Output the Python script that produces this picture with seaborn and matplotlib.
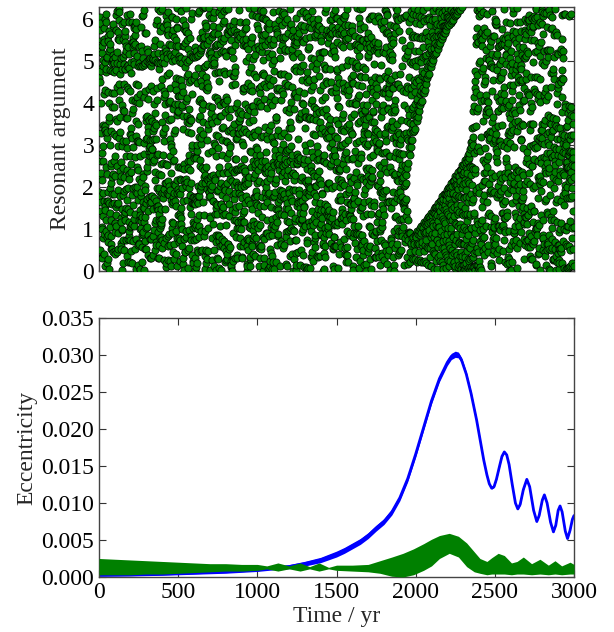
import numpy as np
import pandas as pd
import matplotlib
matplotlib.use("Agg")
import matplotlib.pyplot as plt
import seaborn as sns

# ---------------- data ----------------
# Bottom panel: eccentricity of the inner planet (blue), centre of its thin band
blue_t = [0, 200, 400, 600, 800, 1000, 1100, 1200, 1300, 1400, 1500, 1550, 1600,
          1650, 1700, 1750, 1800, 1850, 1900, 1950, 2000, 2050, 2100, 2150, 2200,
          2225, 2250, 2270, 2290, 2320, 2350, 2385, 2410, 2430, 2450, 2465, 2480,
          2495, 2510, 2530, 2545, 2560, 2575, 2590, 2610, 2630, 2645, 2660, 2680,
          2702, 2720, 2745, 2765, 2780, 2800, 2813, 2830, 2852, 2870, 2885, 2900,
          2912, 2925, 2945, 2959, 2975, 2990, 3000]
blue_e = [0.00025, 0.0003, 0.0004, 0.00055, 0.0007, 0.00095, 0.0012, 0.0014, 0.0018,
          0.0023, 0.0031, 0.0036, 0.0042, 0.0048, 0.0056, 0.0066, 0.0075, 0.0088,
          0.0107, 0.0133, 0.0166, 0.0202, 0.0238, 0.0268, 0.0290, 0.0298, 0.0301,
          0.0300, 0.0293, 0.0274, 0.0248, 0.0212, 0.0182, 0.0158, 0.0138, 0.0126,
          0.0120, 0.0122, 0.0132, 0.0150, 0.0163, 0.0169, 0.0165, 0.0152, 0.0125,
          0.0100, 0.0092, 0.0098, 0.0118, 0.0132, 0.0122, 0.0090, 0.0075, 0.0083,
          0.0104, 0.0111, 0.0100, 0.0074, 0.0061, 0.0070, 0.0090, 0.0096, 0.0088,
          0.0062, 0.0052, 0.0063, 0.0078, 0.0083]
# half-width of the fast wiggle band of the blue curve
blue_halfwidth_t = [0, 1000, 1500, 1800, 2250, 2450, 3000]
blue_halfwidth = [0.00015, 0.0002, 0.0004, 0.0004, 0.00042, 0.00012, 0.0001]

# Bottom panel: eccentricity of the outer planet (green), lower / upper band edge
green_t = [0, 100, 200, 300, 400, 500, 600, 700, 800, 900, 1000, 1060, 1130, 1200,
           1270, 1330, 1390, 1450, 1500, 1600, 1700, 1775, 1850, 1920, 1986, 2050,
           2100, 2150, 2212, 2270, 2322, 2370, 2406, 2450, 2480, 2521, 2560, 2605,
           2640, 2680, 2732, 2785, 2838, 2880, 2922, 2975, 3000]
green_lo = [0.0003, 0.0003, 0.0003, 0.0004, 0.0004, 0.0005, 0.0006, 0.0007, 0.0008,
            0.0008, 0.0009, 0.0011, 0.0008, 0.0011, 0.0008, 0.0011, 0.0008, 0.0011,
            0.0009, 0.0008, 0.0007, 0.0005, 0.0001, 0.0000, 0.0003, 0.0009, 0.0015,
            0.0025, 0.0032, 0.0027, 0.0014, 0.0007, 0.0005, 0.0003, 0.0004, 0.0004,
            0.0004, 0.0003, 0.0004, 0.0004, 0.0003, 0.0004, 0.0003, 0.0004, 0.0003,
            0.0004, 0.0004]
green_hi = [0.0025, 0.0024, 0.0023, 0.0022, 0.0021, 0.0020, 0.0019, 0.0018, 0.0018,
            0.0017, 0.0017, 0.0015, 0.0019, 0.0015, 0.0019, 0.0014, 0.0019, 0.0013,
            0.0016, 0.0016, 0.0017, 0.0022, 0.0027, 0.0032, 0.0038, 0.0045, 0.0051,
            0.0056, 0.0059, 0.0055, 0.0046, 0.0034, 0.0025, 0.0021, 0.0026, 0.0032,
            0.0029, 0.0019, 0.0021, 0.0027, 0.0018, 0.0024, 0.0016, 0.0022, 0.0015,
            0.0020, 0.0017]

# Top panel: resonant argument, sampled every 0.8 yr.  The cloud is described by
# the band the argument sweeps (centre and half-width, read from the empty
# libration gap around 1945-2392 yr) and the phase within the band.
sample_step_yr = 0.8
band_t = [0, 1600, 1750, 1850, 1920, 1940, 1945, 1960, 1975, 2000, 2050, 2100,
          2150, 2200, 2250, 2300, 2344, 2355, 2365, 2376, 2386, 2392, 2420, 2480,
          2600, 2700, 3000]
band_halfwidth = [30.0, 30.0, 12.0, 6.0, 3.8, 3.14, 2.59, 2.27, 2.03, 1.87, 1.62,
                  1.38, 1.28, 1.22, 1.24, 1.27, 1.43, 1.69, 2.03, 2.59, 3.10, 3.14,
                  4.5, 9.0, 20.0, 30.0, 30.0]
band_centre = [-3.0, -2.0, -1.7, -1.5, -1.4, -1.34, -1.29, -1.32, -1.21, -0.97,
               -0.47, 0.02, 0.39, 0.73, 1.01, 1.28, 1.45, 1.71, 2.04, 2.61, 3.11,
               3.14, 3.4, 3.8, 4.2, 4.5, 5.0]
phase_step_t = [0, 500, 1000, 1500, 1900, 2200, 2600, 3000]
phase_step_cycles = [0.6180, 0.6140, 0.6205, 0.6160, 0.6188, 0.6176, 0.6210, 0.6150]

x_ticks = [0, 500, 1000, 1500, 2000, 2500, 3000]
ecc_ticks = [0.000, 0.005, 0.010, 0.015, 0.020, 0.025, 0.030, 0.035]
arg_ticks = [0, 1, 2, 3, 4, 5, 6]

# ---------------- build tables ----------------
t_s = np.arange(0, 3000 + sample_step_yr / 2, sample_step_yr)
step = np.interp(t_s, phase_step_t, phase_step_cycles)
theta = 2 * np.pi * np.cumsum(step)
amp = np.interp(t_s, band_t, band_halfwidth)
cen = np.interp(t_s, band_t, band_centre)
arg = np.mod(cen + amp * np.sin(theta), 2 * np.pi)
df_arg = pd.DataFrame({"t": t_s, "arg": arg})

df_blue = pd.DataFrame({"t": blue_t, "e": blue_e})
bhw = np.interp(blue_t, blue_halfwidth_t, blue_halfwidth)

# ---------------- style ----------------
sns.set_style("ticks")
plt.rcParams["font.family"] = ["Liberation Serif", "DejaVu Serif"]
plt.rcParams.update({
    "font.size": 17,
    "xtick.direction": "in", "ytick.direction": "in",
    "xtick.top": True, "ytick.right": True,
    "xtick.major.size": 5, "ytick.major.size": 5,
    "xtick.major.width": 0.8, "ytick.major.width": 0.8,
    "xtick.color": "#333333", "ytick.color": "#333333",
    "xtick.labelcolor": "black", "ytick.labelcolor": "black",
    "axes.edgecolor": "#444444", "axes.linewidth": 1.0,
    "xtick.labelsize": 17, "ytick.labelsize": 17, "axes.labelsize": 17,
})

fig = plt.figure(figsize=(6.14, 6.32), dpi=100)
ax1 = fig.add_axes([99 / 614, 1 - 271 / 632, 475 / 614, 264 / 632])
ax2 = fig.add_axes([99 / 614, 1 - 577 / 632, 475 / 614, 259 / 632])

# top panel
sns.scatterplot(data=df_arg, x="t", y="arg", ax=ax1, color=(0, 0.5, 0), s=27,
                edgecolor="black", linewidth=0.5, legend=False, zorder=3)
ax1.set_xlim(0, 3000)
ax1.set_ylim(0, 2 * np.pi)
ax1.set_xticks(x_ticks)
ax1.set_xticklabels([])
ax1.set_yticks(arg_ticks)
ax1.set_yticklabels([str(v) for v in arg_ticks])
ax1.set_xlabel("")
ax1.set_ylabel("Resonant argument", labelpad=8)

# bottom panel
ax2.fill_between(blue_t, np.array(blue_e) - bhw, np.array(blue_e) + bhw,
                 color="blue", linewidth=0, zorder=2)
sns.lineplot(data=df_blue, x="t", y="e", ax=ax2, color="blue", linewidth=2.0,
             zorder=2)
ax2.fill_between(green_t, green_lo, green_hi, color=(0, 0.5, 0), linewidth=0,
                 zorder=3)
ax2.set_xlim(0, 3000)
ax2.set_ylim(0, 0.035)
ax2.set_xticks(x_ticks)
ax2.set_xticklabels([str(v) for v in x_ticks])
ax2.set_yticks(ecc_ticks)
ax2.set_yticklabels([f"{v:.3f}" for v in ecc_ticks])
ax2.set_xlabel("Time / yr", labelpad=2)
ax2.set_ylabel("Eccentricity", labelpad=3)

for ax in (ax1, ax2):
    for sp in ax.spines.values():
        sp.set_visible(True)

fig.savefig("out.png", dpi=100)
